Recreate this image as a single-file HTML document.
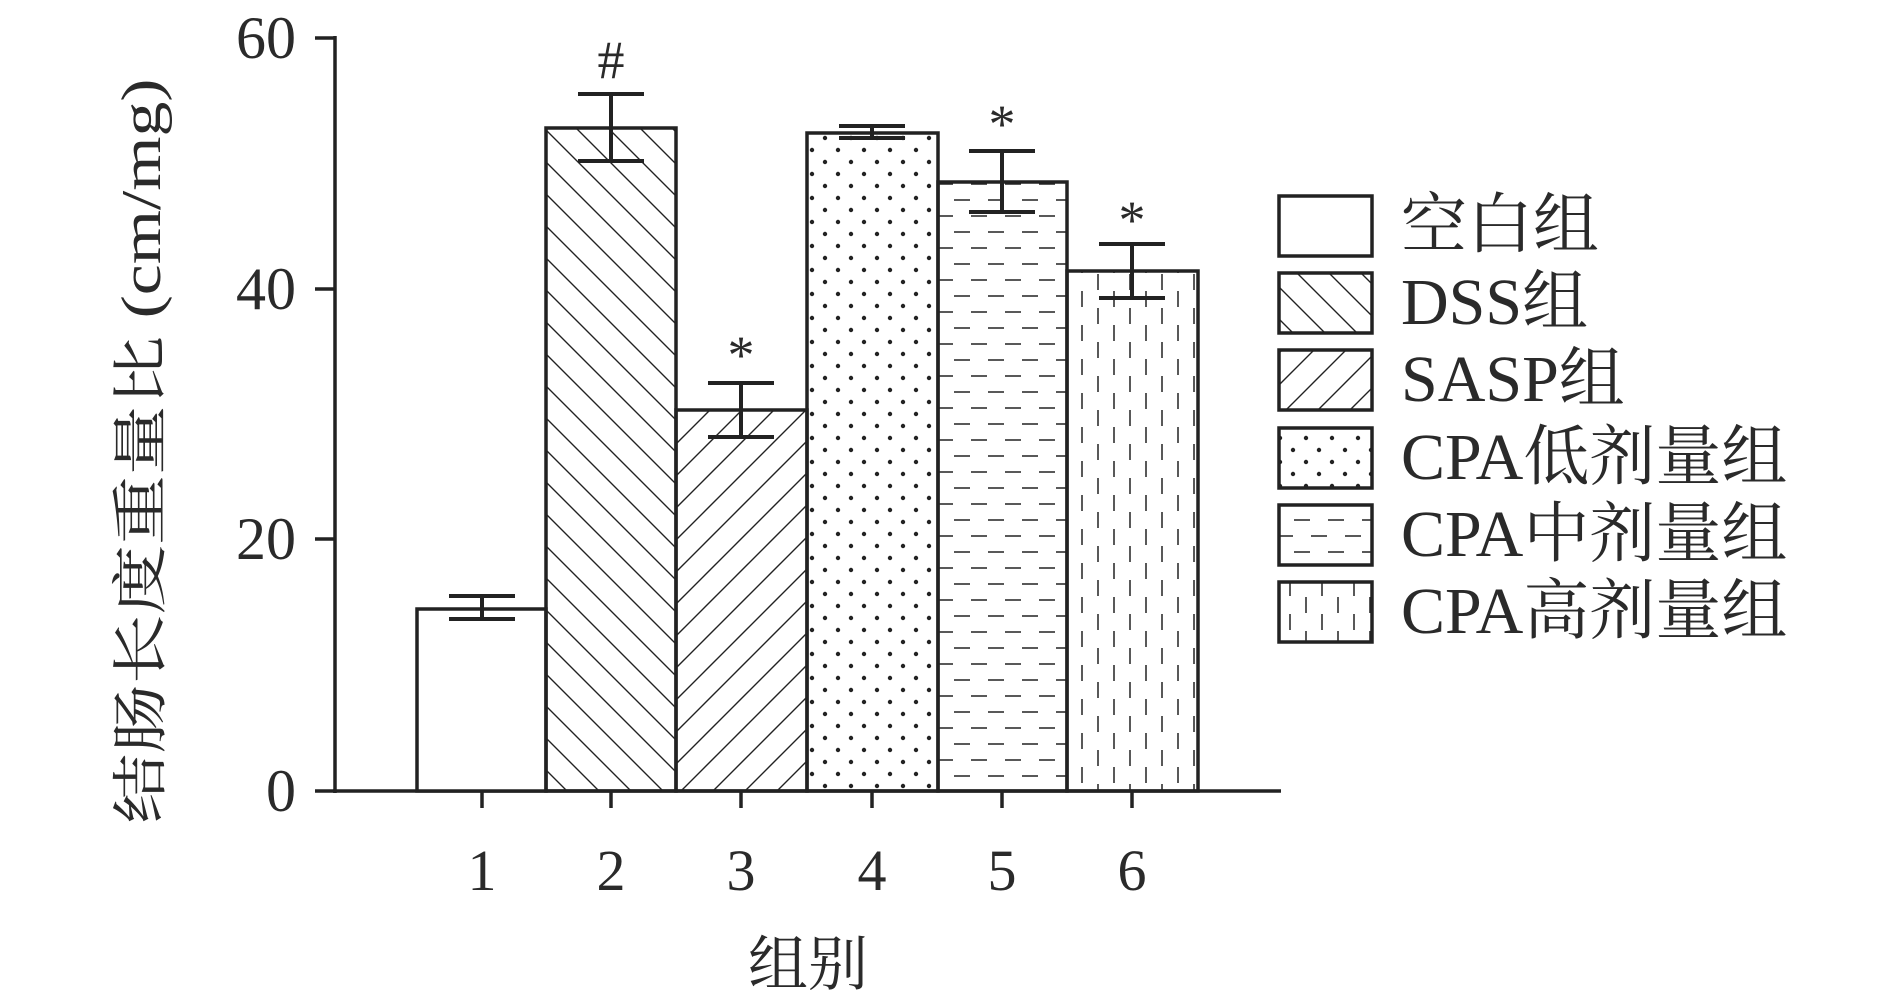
<!DOCTYPE html>
<html><head><meta charset="utf-8"><style>
html,body{margin:0;padding:0;background:#fff;}
svg{display:block;}
text{fill:#2a2a2a;font-family:"Liberation Serif","Noto Serif CJK SC",serif;}
</style></head><body>
<svg width="1890" height="1004" viewBox="0 0 1890 1004" xmlns="http://www.w3.org/2000/svg">
<defs>
<pattern id="bs" width="32" height="32" patternUnits="userSpaceOnUse">
<path d="M-8,-8 L40,40 M-8,24 L8,40 M24,-8 L40,8" stroke="#222" stroke-width="1.4"/>
</pattern>
<pattern id="fs" width="32" height="32" patternUnits="userSpaceOnUse">
<path d="M-8,40 L40,-8 M-8,8 L8,-8 M24,40 L40,24" stroke="#222" stroke-width="1.4"/>
</pattern>
<pattern id="dots" width="26" height="24" patternUnits="userSpaceOnUse">
<circle cx="6" cy="6" r="2.2" fill="#222"/><circle cx="19" cy="18" r="2.2" fill="#222"/>
</pattern>
<pattern id="hd" width="34" height="32" patternUnits="userSpaceOnUse">
<path d="M2,8 H18 M19,24 H35 M-15,24 H1" stroke="#222" stroke-width="1.5"/>
</pattern>
<pattern id="vd" width="32" height="34" patternUnits="userSpaceOnUse">
<path d="M10,2 V18 M26,19 V35 M26,-15 V1" stroke="#222" stroke-width="1.5"/>
</pattern>
</defs>
<g stroke="#222" stroke-width="3.5" fill="none">
<line x1="335" y1="36" x2="335" y2="793"/>
<line x1="333" y1="791" x2="1281" y2="791"/>
<line x1="315" y1="38" x2="335" y2="38"/>
<line x1="315" y1="289" x2="335" y2="289"/>
<line x1="315" y1="539" x2="335" y2="539"/>
<line x1="315" y1="791" x2="335" y2="791"/>
<line x1="482" y1="791" x2="482" y2="808"/>
<line x1="611" y1="791" x2="611" y2="808"/>
<line x1="741" y1="791" x2="741" y2="808"/>
<line x1="872" y1="791" x2="872" y2="808"/>
<line x1="1002" y1="791" x2="1002" y2="808"/>
<line x1="1132" y1="791" x2="1132" y2="808"/>
</g>
<g stroke="#222" stroke-width="3.5">
<rect x="417" y="609" width="129" height="182" fill="#fff"/>
<rect x="546" y="128" width="130" height="663" fill="url(#bs)"/>
<rect x="676" y="410" width="131" height="381" fill="url(#fs)"/>
<rect x="807" y="133" width="131" height="658" fill="url(#dots)"/>
<rect x="938" y="182" width="129" height="609" fill="url(#hd)"/>
<rect x="1067" y="271" width="131" height="520" fill="url(#vd)"/>
</g>
<g stroke="#222" stroke-width="4" fill="none">
<path d="M482,596 V619 M449,596 H515 M449,619 H515"/>
<path d="M611,94 V161 M578,94 H644 M578,161 H644"/>
<path d="M741,383 V437 M708,383 H774 M708,437 H774"/>
<path d="M872,126 V138 M839,126 H905 M839,138 H905"/>
<path d="M1002,151 V212 M969,151 H1035 M969,212 H1035"/>
<path d="M1132,244 V298 M1099,244 H1165 M1099,298 H1165"/>
</g>
<g font-size="54" text-anchor="middle">
<text x="611" y="78">#</text>
<text x="741" y="373">*</text>
<text x="1002" y="142">*</text>
<text x="1132" y="238">*</text>
</g>
<g font-size="60" text-anchor="end">
<text x="296" y="58">60</text>
<text x="296" y="309">40</text>
<text x="296" y="559">20</text>
<text x="296" y="811">0</text>
</g>
<g font-size="58" text-anchor="middle">
<text x="482" y="890">1</text>
<text x="611" y="890">2</text>
<text x="741" y="890">3</text>
<text x="872" y="890">4</text>
<text x="1002" y="890">5</text>
<text x="1132" y="890">6</text>
</g>
<text x="808" y="985" font-size="60" text-anchor="middle">组别</text>
<text transform="translate(160,451) rotate(-90)" font-size="56" text-anchor="middle" textLength="745" lengthAdjust="spacingAndGlyphs">结肠长度重量比 (cm/mg)</text>
<g stroke="#222" stroke-width="3.5">
<rect x="1279" y="196" width="93" height="60" fill="#fff"/>
<rect x="1279" y="273" width="93" height="60" fill="url(#bs)"/>
<rect x="1279" y="350" width="93" height="60" fill="url(#fs)"/>
<rect x="1279" y="428" width="93" height="60" fill="url(#dots)"/>
<rect x="1279" y="505" width="93" height="60" fill="url(#hd)"/>
<rect x="1279" y="582" width="93" height="60" fill="url(#vd)"/>
</g>
<g font-size="66">
<text x="1401" y="247">空白组</text>
<text x="1401" y="324">DSS组</text>
<text x="1401" y="401">SASP组</text>
<text x="1401" y="479">CPA低剂量组</text>
<text x="1401" y="556">CPA中剂量组</text>
<text x="1401" y="633">CPA高剂量组</text>
</g>
</svg>
</body></html>
